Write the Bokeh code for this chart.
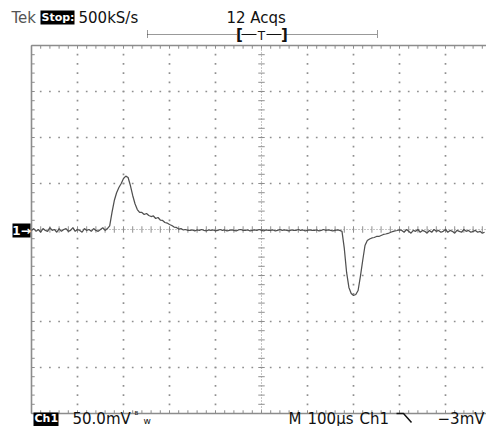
import numpy as np
from bokeh.plotting import figure
from bokeh.models import Range1d
from bokeh.core.properties import value
from bokeh.embed import file_html
from bokeh.resources import INLINE

# ---------------- data ----------------
US_PER_DIV = 100.0      # M 100us
MV_PER_DIV = 50.0       # Ch1 50.0mV
T_START_US = -500
T_STEP_US = 5

# baseline before the positive pulse (-500 .. -335 us), mV
seg_pre = [-1, 1, -2, 0, -3, 1, -1, -2, 2, -1, 0, -3, 1, -2, 0, 1, -2, -1, 2, -2,
           0, -1, -3, 1, -1, 0, -2, 1, -1, -2, 0, 2, -1, 1]
# positive pulse (-330 .. -160 us)
seg_pos = [4, 18.5, 31.5, 40, 45.6, 50, 55.4, 58, 56.5, 47.8,
           37, 28, 21.7, 18.5, 18.5, 16.3, 17.4, 15.2, 14.1, 14.7,
           12, 13, 10.3, 9.8, 7.6, 7, 5.4, 4.3, 2.7, 2.2,
           0.5, 1, -0.5, 0, -1]
# quiet baseline (-155 .. 165 us)
seg_mid = [-1, -0.5, -1.5, -0.5, -1, 0, -1, -1.5, -0.5, -1,
           -0.5, -1.5, -1, 0, -1, -0.5, -1.5, -1, -0.5, -1,
           -1.5, -0.5, 0, -1, -1, -0.5, -1.5, -1, -0.5, -1,
           0, -1, -1.5, -0.5, -1, -1, -0.5, -1.5, -1, 0,
           -1, -0.5, -1, -1.5, -0.5, -1, -1, 0, -1, -0.5,
           -1.5, -1, -0.5, -1, -1, -0.5, -1.5, -1, 0, -1,
           -0.5, -1, -1.5, -1, -0.5]
# negative pulse (170 .. 300 us)
seg_neg = [-1, -2, -20.6, -46.7, -63, -69.5, -71.7, -70.6, -66.3, -51,
           -33.7, -17.4, -12, -10.3, -9.2, -8.7, -7.6, -7.6, -6.5, -5.4,
           -4.9, -4.3, -3.3, -2.2, -1.6, -1.1, -0.5]
# baseline after (305 .. 485 us)
seg_post = [-1, -3, 0, -2, -4, -1, -2, 0, -3, -1,
            -2, -4, -1, -3, 0, -2, -1, -3, -2, 0,
            -3, -1, -2, -4, -1, -2, -3, 0, -2, -1,
            -3, -2, -1, -3, -2, -4, -3]

volts_mv = np.array(seg_pre + seg_pos + seg_mid + seg_neg + seg_post, dtype=float)
time_us = T_START_US + T_STEP_US * np.arange(len(volts_mv))

top_left = ["Tek", "Stop:", "500kS/s"]
top_mid = "12 Acqs"
bottom_ch = ["Ch1", "50.0mV"]
bottom_right = ["M", "100\u00b5s", "Ch1", "\u22123mV"]

H_DIVS = 10
V_DIVS = 8

# ---------------- layout helpers (page pixels -> divisions) ----------------
PX_PER_DIV = 46.0
CX, CY = 261.0, 229.0
W, H = 486, 426


def X(px):
    return (px - CX) / PX_PER_DIV


def Y(py):
    return (CY - py) / PX_PER_DIV


FONT = value("DejaVu Sans")
FRAME = "#8c8c8c"
DOT = "#8f8f8f"

p = figure(width=W, height=H, output_backend="svg", toolbar_location=None,
           x_range=Range1d(X(0), X(W)), y_range=Range1d(Y(H), Y(0)),
           x_axis_type=None, y_axis_type=None,
           min_border_left=0, min_border_right=0, min_border_top=0, min_border_bottom=0)
p.outline_line_color = None
p.grid.visible = False
p.background_fill_color = "white"
p.border_fill_color = "white"

hx = H_DIVS / 2
hy = V_DIVS / 2
minor_x = np.round(np.arange(-hx, hx + 1e-9, 0.2), 6)
minor_y = np.round(np.arange(-hy, hy + 1e-9, 0.2), 6)
tick = 0.07

# frame
p.segment(x0=[-hx, -hx, -hx], y0=[hy, -hy, -hy], x1=[hx, hx, -hx], y1=[hy, -hy, hy],
          line_color=FRAME, line_width=1.6)
# frame minor ticks
p.segment(x0=minor_x, y0=hy, x1=minor_x, y1=hy - tick, line_color=FRAME, line_width=1)
p.segment(x0=minor_x, y0=-hy, x1=minor_x, y1=-hy + tick, line_color=FRAME, line_width=1)
p.segment(x0=-hx, y0=minor_y, x1=-hx + tick, y1=minor_y, line_color=FRAME, line_width=1)

# grid dots
gx, gy = [], []
for mx in range(-int(hx) + 1, int(hx)):
    if mx == 0:
        continue
    for yy in minor_y[1:-1]:
        gx.append(mx); gy.append(yy)
for my in range(-int(hy) + 1, int(hy)):
    if my == 0:
        continue
    for xx in minor_x[1:-1]:
        gx.append(xx); gy.append(my)
p.scatter(x=gx, y=gy, marker="square", size=1.7, fill_color=DOT, line_color=None)

# centre cross
p.segment(x0=[0, -hx], y0=[-hy, 0], x1=[0, hx], y1=[hy, 0], line_color=DOT,
          line_width=1, line_dash="1 2")
p.segment(x0=-tick, y0=minor_y, x1=tick, y1=minor_y, line_color=DOT, line_width=1)
p.segment(x0=minor_x, y0=-tick, x1=minor_x, y1=tick, line_color=DOT, line_width=1)

# trace
p.line(x=time_us / US_PER_DIV, y=volts_mv / MV_PER_DIV, line_color="#505050", line_width=1.25)

# ---------------- texts ----------------
def txt(px, py, s, size="15px", color="#111111", align="left", style="normal", font=FONT):
    p.text(x=[X(px)], y=[Y(py)], text=[s], text_font=font, text_font_size=size,
           text_color=color, text_align=align, text_baseline="middle", text_font_style=style)


def box(l, t, r, b):
    p.quad(left=[X(l)], right=[X(r)], top=[Y(t)], bottom=[Y(b)], fill_color="black", line_color=None)


# top line
TOP = 17
txt(11, TOP, top_left[0], color="#555555")
box(40, 10, 74, 24)
txt(41, TOP, top_left[1], color="white", style="bold", size="11px")
txt(78, TOP, top_left[2])
txt(226, TOP, top_mid)

# trigger / record bar
bar_y = 34
p.segment(x0=[X(147), X(285)], y0=[Y(bar_y)] * 2, x1=[X(237), X(377)], y1=[Y(bar_y)] * 2,
          line_color="#333333", line_width=1, line_dash="1 1")
p.segment(x0=[X(147), X(377)], y0=[Y(bar_y - 4)] * 2, x1=[X(147), X(377)], y1=[Y(bar_y + 4)] * 2,
          line_color="#333333", line_width=1, line_dash="1 1")
p.segment(x0=[X(241), X(266)], y0=[Y(bar_y)] * 2, x1=[X(256), X(281)], y1=[Y(bar_y)] * 2,
          line_color="#111111", line_width=1)
txt(239, bar_y, "[", size="15px", align="center", style="bold")
txt(261, bar_y + 1, "T", size="12px", align="center")
txt(284, bar_y, "]", size="15px", align="center", style="bold")

# channel marker
box(12, 223, 30, 237)
txt(21, 230, "1\u2192", size="12px", color="white", align="center", style="bold")

# bottom line
BOT = 418
box(33, 412, 58, 426)
txt(34, BOT, bottom_ch[0], color="white", style="bold", size="11px")
txt(72, BOT, bottom_ch[1])
txt(134, BOT - 4, "\u1D2E", size="9px")
txt(143, BOT + 2, "w", size="9px")
txt(288, BOT, bottom_right[0])
txt(307, BOT, bottom_right[1])
txt(359, BOT, bottom_right[2])
# falling-edge trigger slope symbol
p.line(x=[X(396), X(403), X(411)], y=[Y(413), Y(413), Y(422)], line_color="#111111", line_width=1.5)
txt(484, BOT, bottom_right[3], align="right")

open("out.html", "w").write(file_html(p, INLINE))
